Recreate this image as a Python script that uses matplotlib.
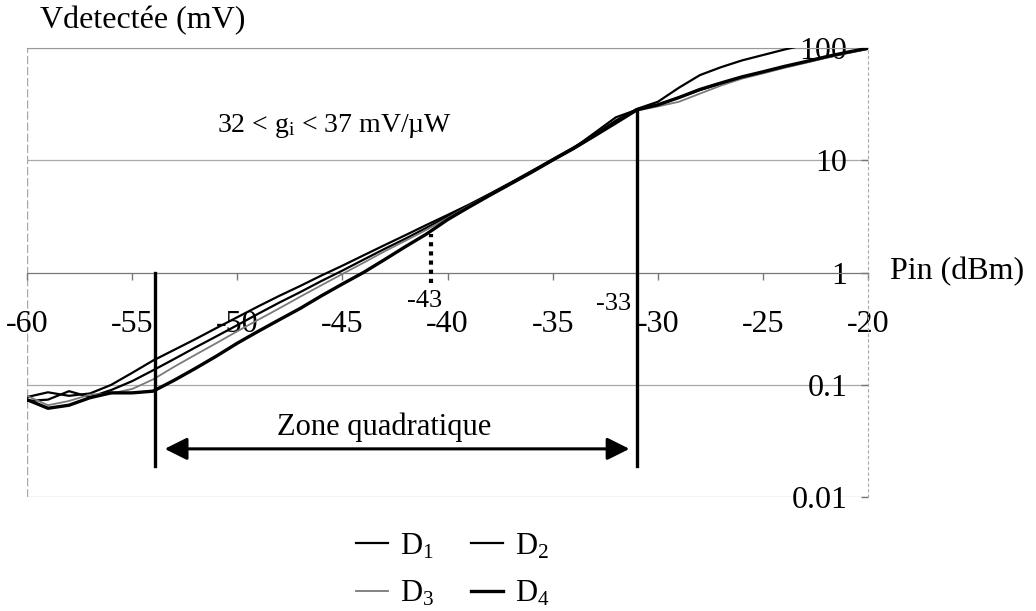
import numpy as np
import matplotlib
matplotlib.use("Agg")
import matplotlib.pyplot as plt
from matplotlib.ticker import FixedLocator, FixedFormatter, NullLocator

plt.rcParams['font.family'] = ['Liberation Serif', 'DejaVu Serif']
plt.rcParams['mathtext.fontset'] = 'custom'
plt.rcParams['mathtext.rm'] = 'Liberation Serif'
plt.rcParams['mathtext.it'] = 'Liberation Serif:italic'

# Input power sweep (dBm)
pin_dbm = list(range(-60, -19))

# Detected voltage (mV) for the four detectors
d1 = [0.078, 0.086, 0.080, 0.084, 0.100, 0.128, 0.165, 0.205, 0.255, 0.32,
      0.40, 0.50, 0.62, 0.76, 0.94, 1.15, 1.42, 1.75, 2.15, 2.65,
      3.25, 4.0, 5.0, 6.3, 8.0, 10.2, 13.0, 16.8, 22.5, 28.5,
      33.0, 44.0, 57.0, 67.0, 77.0, 86.0, 96.0, 106.0, 116.0, 126.0, 136.0]
d2 = [0.072, 0.074, 0.088, 0.078, 0.090, 0.108, 0.135, 0.17, 0.215, 0.27,
      0.34, 0.43, 0.54, 0.67, 0.84, 1.04, 1.30, 1.62, 2.0, 2.5,
      3.15, 3.95, 4.95, 6.25, 7.9, 10.0, 12.8, 17.5, 24.0, 28.0,
      31.0, 36.0, 42.0, 48.0, 54.0, 60.0, 67.0, 74.0, 82.0, 90.0, 98.0]
d3 = [0.080, 0.066, 0.072, 0.082, 0.084, 0.092, 0.112, 0.145, 0.185, 0.235,
      0.30, 0.38, 0.48, 0.61, 0.77, 0.97, 1.22, 1.54, 1.92, 2.4,
      3.05, 3.9, 4.9, 6.2, 7.8, 9.9, 12.6, 16.2, 21.0, 27.5,
      30.0, 33.0, 39.0, 46.0, 53.0, 59.0, 66.0, 73.0, 81.0, 89.0, 97.0]
d4 = [0.074, 0.062, 0.066, 0.077, 0.085, 0.085, 0.088, 0.11, 0.14, 0.18,
      0.235, 0.30, 0.38, 0.48, 0.62, 0.79, 1.0, 1.3, 1.7, 2.2,
      2.95, 3.8, 4.85, 6.15, 7.8, 10.0, 12.7, 16.5, 21.5, 28.0,
      31.0, 36.0, 42.5, 48.5, 55.0, 61.0, 68.0, 75.0, 83.0, 91.0, 99.0]

x_ticks = [-60, -55, -50, -45, -40, -35, -30, -25, -20]
x_tick_labels = ['-60', '-55', '-50', '-45', '-40', '-35', '-30', '-25', '-20']
y_ticks = [0.01, 0.1, 1, 10, 100]
y_tick_labels = ['0.01', '0.1', '1', '10', '100']

# Square-law zone limits and marker
zone_low, zone_high = -53.9, -31.0
marker_x = -40.8

fig = plt.figure(figsize=(10.36, 6.11), dpi=100)
ax = fig.add_axes([0.026, 0.186, 0.812, 0.736])
ax.set_xlim(-60, -20)
ax.set_yscale('log')
ax.set_ylim(0.01, 100)

grey = '#a8a8a8'
# horizontal decade grid (also closes the frame at 0.01)
for yv in y_ticks:
    ax.axhline(yv, color=grey, lw=0.9, zorder=1)
ax.axvline(-60, color=grey, lw=1.0, ls=(0, (6, 2)), zorder=1)

# y axis drawn at Pin = -20, labels on its left
ax.spines['left'].set_position(('data', -20))
ax.spines['left'].set_color(grey)
ax.spines['left'].set_linestyle((0, (2, 3)))
ax.spines['right'].set_visible(False)
ax.spines['top'].set_color('#999999')
# x axis crossing at 1 mV
ax.spines['bottom'].set_position(('data', 1))
ax.spines['bottom'].set_color('#777777')

ax.xaxis.set_major_locator(FixedLocator(x_ticks))
ax.xaxis.set_major_formatter(FixedFormatter(x_tick_labels))
ax.xaxis.set_minor_locator(NullLocator())
ax.yaxis.set_major_locator(FixedLocator(y_ticks))
ax.yaxis.set_major_formatter(FixedFormatter(y_tick_labels))
ax.yaxis.set_minor_locator(NullLocator())
ax.tick_params(axis='x', direction='out', length=5, width=1, color='#777777',
               labelsize=23, pad=22)
ax.tick_params(axis='y', direction='out', length=5, width=1, color='#777777',
               labelsize=23, pad=10)

styles = {
    'D$_1$': dict(color='black', lw=1.6),
    'D$_2$': dict(color='black', lw=1.6),
    'D$_3$': dict(color='#7a7a7a', lw=1.3),
    'D$_4$': dict(color='black', lw=2.4),
}
lines = {}
for name, vals in zip(styles, [d1, d2, d3, d4]):
    ln, = ax.plot(pin_dbm, vals, zorder=3, **styles[name])
    lines[name] = ln

# zone limits
ax.plot([zone_low, zone_low], [0.019, 1.0], color='black', lw=2.4, zorder=4)
ax.plot([zone_high, zone_high], [0.019, 28.0], color='black', lw=2.4, zorder=4)
ax.plot([marker_x, marker_x], [0.8, 2.2], color='black', lw=3.0,
        ls=(0, (1, 1.2)), zorder=4)

ax.annotate('', xy=(zone_low + 0.45, 0.027), xytext=(zone_high - 0.35, 0.027),
            arrowprops=dict(arrowstyle='<|-|>', mutation_scale=34, lw=2.2,
                            color='black', shrinkA=0, shrinkB=0), zorder=4)
ax.text(-43.0, 0.0423, 'Zone quadratique', fontsize=22, ha='center', va='center')
ax.text(-50.97, 20.2, r'32 < g$_\mathrm{i}$ < 37 mV/µW', fontsize=20,
        ha='left', va='center')
ax.text(-41.1, 0.56, '-43', fontsize=19, ha='center', va='center')
ax.text(-32.1, 0.52, '-33', fontsize=19, ha='center', va='center')

fig.text(0.0386, 0.967, 'Vdetectée (mV)', fontsize=23, ha='left', va='center')
fig.text(0.859, 0.555, 'Pin (dBm)', fontsize=23, ha='left', va='center')

order = ['D$_1$', 'D$_3$', 'D$_2$', 'D$_4$']
fig.legend([lines[k] for k in order], order, loc='upper center',
           bbox_to_anchor=(0.437, 0.160), ncol=2, frameon=False, fontsize=22,
           handlelength=1.05, handletextpad=0.4, columnspacing=1.2,
           labelspacing=0.6, borderpad=0.1)

fig.savefig('out.png', dpi=100)
